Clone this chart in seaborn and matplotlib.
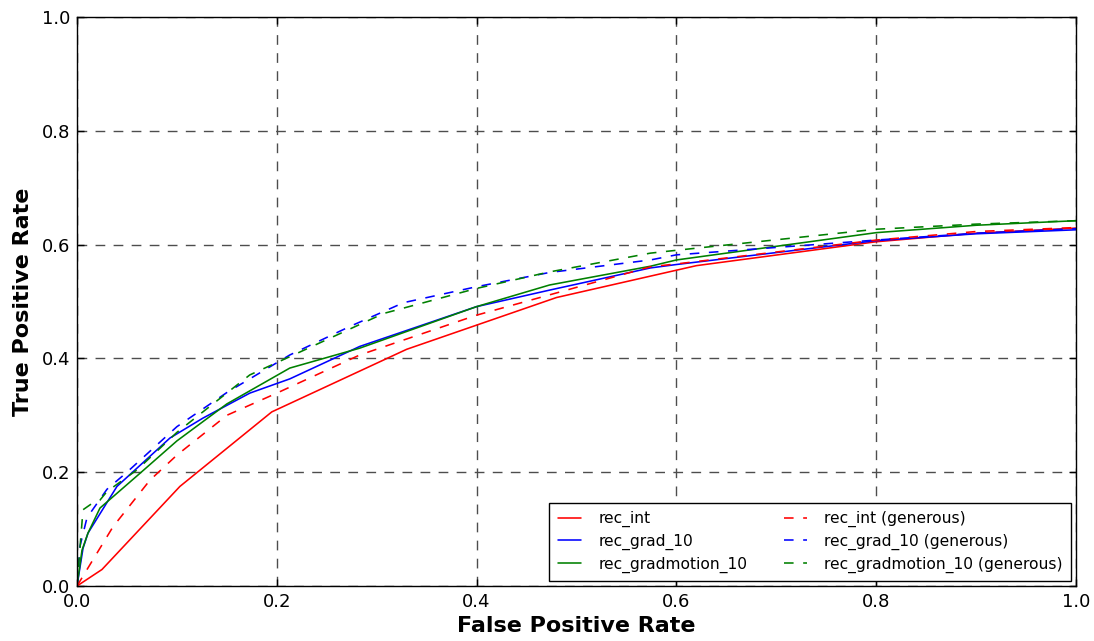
import numpy as np
import pandas as pd
import matplotlib
matplotlib.use("Agg")
import matplotlib.pyplot as plt
import seaborn as sns

# ---- data ----
int_fpr = [0.0, 0.025, 0.103, 0.195, 0.33, 0.48, 0.60, 0.62, 0.80, 0.90, 1.0]
int_tpr = [0.0, 0.029, 0.175, 0.306, 0.416, 0.507, 0.555, 0.563, 0.605, 0.620, 0.629]

grad_fpr = [0.0, 0.006, 0.011, 0.040, 0.093, 0.126, 0.173, 0.213, 0.283, 0.40, 0.473, 0.574, 0.60, 0.80, 0.90, 1.0]
grad_tpr = [0.0, 0.066, 0.093, 0.175, 0.260, 0.295, 0.339, 0.364, 0.421, 0.491, 0.520, 0.559, 0.565, 0.607, 0.619, 0.626]

gm_fpr = [0.0, 0.005, 0.011, 0.023, 0.063, 0.10, 0.15, 0.213, 0.283, 0.40, 0.473, 0.574, 0.60, 0.80, 0.90, 1.0]
gm_tpr = [0.0, 0.063, 0.093, 0.137, 0.198, 0.255, 0.320, 0.383, 0.418, 0.491, 0.529, 0.562, 0.573, 0.621, 0.634, 0.642]

intg_fpr = [0.0, 0.036, 0.073, 0.10, 0.15, 0.20, 0.283, 0.40, 0.574, 0.60, 0.80, 0.90, 1.0]
intg_tpr = [0.0, 0.104, 0.186, 0.23, 0.30, 0.339, 0.406, 0.476, 0.561, 0.566, 0.608, 0.623, 0.630]

gradg_fpr = [0.0, 0.003, 0.010, 0.030, 0.05, 0.10, 0.15, 0.213, 0.273, 0.327, 0.40, 0.473, 0.574, 0.60, 0.80, 0.90, 1.0]
gradg_tpr = [0.0, 0.070, 0.120, 0.170, 0.20, 0.28, 0.34, 0.406, 0.456, 0.498, 0.526, 0.551, 0.573, 0.582, 0.608, 0.620, 0.628]

gmg_fpr = [0.0, 0.006, 0.015, 0.023, 0.030, 0.06, 0.10, 0.173, 0.213, 0.307, 0.40, 0.473, 0.574, 0.60, 0.80, 0.90, 1.0]
gmg_tpr = [0.0, 0.134, 0.145, 0.151, 0.166, 0.204, 0.27, 0.371, 0.403, 0.479, 0.523, 0.552, 0.585, 0.590, 0.627, 0.636, 0.642]

series = [
    ("rec_int", int_fpr, int_tpr, "red", "-"),
    ("rec_grad_10", grad_fpr, grad_tpr, "blue", "-"),
    ("rec_gradmotion_10", gm_fpr, gm_tpr, "green", "-"),
    ("rec_int (generous)", intg_fpr, intg_tpr, "red", (0, (6, 6))),
    ("rec_grad_10 (generous)", gradg_fpr, gradg_tpr, "blue", (0, (6, 6))),
    ("rec_gradmotion_10 (generous)", gmg_fpr, gmg_tpr, "green", (0, (6, 6))),
]

sns.set_style("white")
plt.rcParams['font.family'] = ['DejaVu Sans']
plt.rcParams['font.sans-serif'] = ['DejaVu Sans']
plt.rcParams['text.color'] = 'black'
plt.rcParams['axes.labelcolor'] = 'black'
plt.rcParams['xtick.color'] = 'black'
plt.rcParams['ytick.color'] = 'black'

fig = plt.figure(figsize=(10.94, 6.41), dpi=100, facecolor="white")
ax = fig.add_axes([77/1094, 1-586/641, 999/1094, 569/641])

for name, x, y, c, ls in series:
    df = pd.DataFrame({"fpr": x, "tpr": y})
    sns.lineplot(data=df, x="fpr", y="tpr", ax=ax, color=c, linestyle=ls,
                 linewidth=1.15, sort=False, estimator=None, label=name)

ticks = np.arange(0, 1.01, 0.2)
ax.set_xlim(0, 1)
ax.set_ylim(0, 1)
ax.set_xticks(ticks)
ax.set_yticks(ticks)
ax.set_xticklabels([f"{v:.1f}" for v in ticks])
ax.set_yticklabels([f"{v:.1f}" for v in ticks])
ax.tick_params(direction="in", length=5, width=1, labelsize=13, top=True, right=True,
               bottom=True, left=True, pad=5)
ax.grid(True, color="0.3", linestyle=(0, (7, 6)), linewidth=1.0)
for s in ax.spines.values():
    s.set_color("black")
    s.set_linewidth(1.0)
ax.set_xlabel("False Positive Rate", fontsize=16, fontweight="bold", labelpad=4)
ax.set_ylabel("True Positive Rate", fontsize=16, fontweight="bold", labelpad=6)

leg = ax.legend(loc="lower right", ncol=2, fontsize=11.2, frameon=True, fancybox=False,
                edgecolor="black", framealpha=1, borderaxespad=0.3, borderpad=0.55,
                handlelength=1.5, columnspacing=2.35, labelspacing=0.42, handletextpad=1.1)
leg.get_frame().set_linewidth(1.0)

fig.savefig("out.png", dpi=100, facecolor="white")
